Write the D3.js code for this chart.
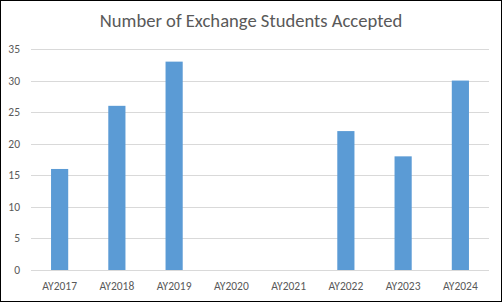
<!DOCTYPE html>
<html><head><meta charset="utf-8">
<script src="https://cdn.jsdelivr.net/npm/d3@7"></script>
<style>html,body{margin:0;padding:0;background:#fff;}</style>
</head><body>
<script>
const categories = ["AY2017","AY2018","AY2019","AY2020","AY2021","AY2022","AY2023","AY2024"];
const values = [16, 26, 33, 0, 0, 22, 18, 30];
const yTicks = [0, 5, 10, 15, 20, 25, 30, 35];
const title = "Number of Exchange Students Accepted";

(function(){
const W = 503, H = 303;
const svg = d3.select("body").append("svg").attr("width", W).attr("height", H).style("display","block");
svg.append("rect").attr("x",0.5).attr("y",0.5).attr("width",501).attr("height",301)
  .attr("fill","#fff").attr("stroke","#000").attr("stroke-width",1);

const pLeft = 31, pRight = 489, pTop = 49, pBottom = 270;
const x = d3.scaleBand().domain(categories).range([pLeft, pRight]).paddingInner(0.7).paddingOuter(0.35);
const y = d3.scaleLinear().domain([0, 35]).range([pBottom, pTop]);

const font = "Calibri, Carlito, 'Open Sans', sans-serif";
svg.append("text").attr("x", 251).attr("y", 27).attr("text-anchor","middle")
  .attr("font-family", font).attr("font-size", 18.6).attr("fill","#595959").text(title);

svg.append("g").selectAll("line").data(yTicks).join("line")
  .attr("x1", pLeft).attr("x2", pRight)
  .attr("y1", d => Math.round(y(d)) + 0.5).attr("y2", d => Math.round(y(d)) + 0.5)
  .attr("stroke","#d9d9d9").attr("stroke-width",1);

svg.append("g").selectAll("text").data(yTicks).join("text")
  .attr("x", 20).attr("y", d => y(d) + 4).attr("text-anchor","end")
  .attr("font-family", font).attr("font-size", 11.5).attr("fill","#595959").text(d => d);

svg.append("g").selectAll("rect").data(values).join("rect")
  .attr("x", (d,i) => x(categories[i])).attr("width", x.bandwidth())
  .attr("y", d => y(d)).attr("height", d => y(0) - y(d)).attr("fill","#5b9bd5");

svg.append("g").selectAll("text").data(categories).join("text")
  .attr("x", d => x(d) + x.bandwidth()/2).attr("y", 290).attr("text-anchor","middle")
  .attr("font-family", font).attr("font-size", 11.5).attr("fill","#595959").text(d => d);
})();
</script>
</body></html>
